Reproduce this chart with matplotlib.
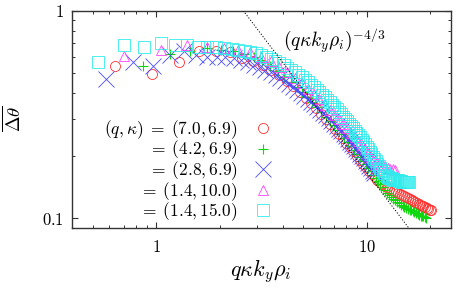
import matplotlib
matplotlib.use("Agg")
import matplotlib.pyplot as plt
import numpy as np
from matplotlib.ticker import FixedLocator, FixedFormatter, LogLocator, NullFormatter

plt.rcParams['mathtext.fontset'] = 'cm'
plt.rcParams['font.family'] = 'serif'
plt.rcParams['font.serif'] = ['cmr10', 'DejaVu Serif']

# ---- data ----
labels = [r'$(q,\kappa)\;=\;(7.0,6.9)$', r'$=\;(4.2,6.9)$', r'$=\;(2.8,6.9)$',
          r'$=\;(1.4,10.0)$', r'$=\;(1.4,15.0)$']

x_red = [0.64, 0.96, 1.28, 1.60, 1.92, 2.24, 2.56, 2.88, 3.20, 3.52, 3.84, 4.16, 4.48, 4.80, 5.12,
         5.44, 5.76, 6.08, 6.40, 6.72, 7.04, 7.36, 7.68, 8.00, 8.32, 8.64, 8.96, 9.28, 9.60, 9.92,
         10.24, 10.56, 10.88, 11.20, 11.52, 11.84, 12.16, 12.48, 12.80, 13.12, 13.44, 13.76, 14.08,
         14.40, 14.72, 15.04, 15.36, 15.68, 16.00, 16.32, 16.64, 16.96, 17.28, 17.60, 17.92, 18.24,
         18.56, 18.88, 19.20, 19.52, 19.84, 20.16]
y_red = [0.543, 0.495, 0.566, 0.640, 0.640, 0.635, 0.590, 0.575, 0.550, 0.520, 0.490, 0.460, 0.432,
         0.405, 0.380, 0.358, 0.338, 0.319, 0.301, 0.285, 0.270, 0.256, 0.243, 0.231, 0.220, 0.210,
         0.200, 0.191, 0.183, 0.176, 0.169, 0.163, 0.158, 0.153, 0.149, 0.146, 0.143, 0.141, 0.139,
         0.137, 0.136, 0.134, 0.133, 0.131, 0.130, 0.128, 0.127, 0.125, 0.124, 0.122, 0.121, 0.120,
         0.119, 0.117, 0.116, 0.115, 0.114, 0.113, 0.112, 0.111, 0.110, 0.109]

x_green = [0.87, 1.16, 1.45, 1.74, 2.03, 2.32, 2.61, 2.90, 3.19, 3.48, 3.77, 4.06, 4.35, 4.64, 4.93,
           5.22, 5.51, 5.80, 6.09, 6.38, 6.67, 6.96, 7.25, 7.54, 7.83, 8.12, 8.41, 8.70, 8.99, 9.28,
           9.57, 9.86, 10.15, 10.44, 10.73, 11.02, 11.31, 11.60, 11.89, 12.18, 12.47, 12.76, 13.05,
           13.34, 13.63, 13.92, 14.21, 14.50, 14.79, 15.08, 15.37, 15.66, 15.95, 16.24, 16.53, 16.82,
           17.11, 17.40, 17.69, 17.98, 18.27, 18.56, 18.85, 19.14]
y_green = [0.543, 0.620, 0.640, 0.660, 0.650, 0.640, 0.620, 0.595, 0.570, 0.540,
           0.510, 0.480, 0.455, 0.430, 0.405, 0.383, 0.362, 0.343, 0.325, 0.309,
           0.294, 0.280, 0.267, 0.255, 0.244, 0.233, 0.223, 0.214, 0.205, 0.197,
           0.189, 0.182, 0.175, 0.168, 0.162, 0.156, 0.151, 0.146, 0.141, 0.137,
           0.133, 0.130, 0.127, 0.124, 0.122, 0.120, 0.118, 0.116, 0.115, 0.113,
           0.112, 0.111, 0.110, 0.109, 0.108, 0.107, 0.106, 0.105, 0.104, 0.103,
           0.102, 0.102, 0.101, 0.100]

x_blue = [0.58, 0.78, 0.97, 1.16, 1.36, 1.55, 1.75, 1.94, 2.13, 2.33, 2.52, 2.72, 2.91, 3.10, 3.30,
          3.49, 3.69, 3.88, 4.07, 4.27, 4.46, 4.66, 4.85, 5.04, 5.24, 5.43, 5.63, 5.82, 6.01, 6.21,
          6.40, 6.60, 6.79, 6.98, 7.18, 7.37, 7.57, 7.76, 7.95, 8.15, 8.34, 8.54, 8.73, 8.92, 9.12,
          9.31, 9.51, 9.70, 9.89, 10.09, 10.28, 10.48, 10.67, 10.86]
y_blue = [0.469, 0.566, 0.544, 0.610, 0.640, 0.610, 0.600, 0.600, 0.598, 0.590,
          0.580, 0.565, 0.550, 0.535, 0.520, 0.505, 0.490, 0.475, 0.460, 0.445,
          0.430, 0.415, 0.401, 0.389, 0.377, 0.365, 0.354, 0.343, 0.333, 0.323,
          0.313, 0.304, 0.295, 0.286, 0.278, 0.270, 0.262, 0.255, 0.248, 0.241,
          0.234, 0.228, 0.222, 0.216, 0.210, 0.204, 0.199, 0.194, 0.189, 0.184,
          0.179, 0.174, 0.169, 0.165]

x_mag = [0.70, 1.05, 1.40, 1.75, 2.10, 2.45, 2.80, 3.15, 3.50, 3.85, 4.20, 4.55, 4.90, 5.25, 5.60,
         5.95, 6.30, 6.65, 7.00, 7.35, 7.70, 8.05, 8.40, 8.75, 9.10, 9.45, 9.80, 10.15, 10.50, 10.85,
         11.20, 11.55, 11.90, 12.25, 12.60, 12.95, 13.30, 13.65]
y_mag = [0.605, 0.650, 0.680, 0.670, 0.660, 0.645, 0.630, 0.600, 0.570, 0.537,
         0.505, 0.475, 0.447, 0.421, 0.397, 0.374, 0.353, 0.334, 0.316, 0.300,
         0.285, 0.271, 0.258, 0.246, 0.235, 0.225, 0.215, 0.206, 0.198, 0.192,
         0.187, 0.183, 0.180, 0.177, 0.175, 0.173, 0.172, 0.171]

x_cyan = [0.53, 0.70, 0.88, 1.05, 1.23, 1.40, 1.58, 1.75, 1.93, 2.10,
          2.28, 2.45, 2.63, 2.80, 2.98, 3.15, 3.33, 3.50, 3.68, 3.85,
          4.03, 4.20, 4.38, 4.55, 4.73, 4.90, 5.08, 5.25, 5.43, 5.60,
          5.78, 5.95, 6.13, 6.30, 6.48, 6.65, 6.83, 7.00, 7.18, 7.35,
          7.53, 7.70, 7.88, 8.05, 8.23, 8.40, 8.58, 8.75, 8.93, 9.10,
          9.28, 9.45, 9.63, 9.80, 9.98, 10.15, 10.33, 10.50, 10.68, 10.85,
          11.03, 11.20, 11.38, 11.55, 11.73, 11.90, 12.08, 12.25, 12.43, 12.60,
          12.78, 12.95, 13.13, 13.30, 13.48, 13.65, 13.83, 14.00, 14.18, 14.35,
          14.53, 14.70, 14.88, 15.05, 15.23, 15.40, 15.58, 15.75, 15.93]
y_cyan = [0.566, 0.680, 0.670, 0.700, 0.680, 0.685, 0.670, 0.670, 0.665, 0.660,
          0.655, 0.650, 0.640, 0.632, 0.622, 0.610, 0.598, 0.585, 0.572, 0.558,
          0.545, 0.531, 0.517, 0.504, 0.491, 0.478, 0.465, 0.452, 0.440, 0.428,
          0.416, 0.405, 0.394, 0.383, 0.373, 0.363, 0.353, 0.344, 0.335, 0.326,
          0.317, 0.309, 0.301, 0.293, 0.285, 0.278, 0.271, 0.264, 0.257, 0.251,
          0.245, 0.239, 0.233, 0.227, 0.221, 0.215, 0.209, 0.203, 0.198, 0.193,
          0.188, 0.183, 0.179, 0.175, 0.171, 0.168, 0.165, 0.162, 0.160, 0.158,
          0.157, 0.156, 0.155, 0.154, 0.153, 0.153, 0.152, 0.152, 0.151, 0.151,
          0.151, 0.150, 0.150, 0.150, 0.150, 0.150, 0.150, 0.150, 0.150]

# power law reference: A * x^(-4/3)
pl_prefactor = 3.56
pl_exponent = -4.0 / 3.0

xtick_vals = [1, 10]
xtick_labels = ['$1$', '$10$']
ytick_vals = [0.1, 1]
ytick_labels = ['$0.1$', '$1$']

# ---- figure ----
fig = plt.figure(figsize=(4.62, 2.91), dpi=100)
ax = fig.add_axes([0.1565, 0.2175, 0.819, 0.7457])
ax.set_xscale('log')
ax.set_yscale('log')
ax.set_xlim(0.4, 25)
ax.set_ylim(0.09, 1)

series = [
    (x_red, y_red, 'o', '#ff3030', 7.2, 0.6),
    (x_green, y_green, '+', '#10d810', 7.5, 0.8),
    (x_blue, y_blue, 'x', '#4a4aff', 11.5, 0.6),
    (x_mag, y_mag, '^', '#ff40ff', 7.5, 0.6),
    (x_cyan, y_cyan, 's', '#30ecec', 8.0, 0.6),
]
handles = []
for (xs, ys, m, c, ms, mew), lab in zip(series, labels):
    h, = ax.plot(xs, ys, linestyle='none', marker=m, markersize=ms,
                 markerfacecolor='none', markeredgecolor=c, markeredgewidth=mew,
                 label=lab)
    handles.append(h)

xx = np.logspace(np.log10(0.4), np.log10(25), 200)
ax.plot(xx, pl_prefactor * xx ** pl_exponent, color='black', lw=0.7,
        linestyle=(0, (1.2, 1.8)), zorder=5)

ax.text(0.557, 0.828, r'$(q\kappa k_y\rho_i)^{-4/3}$', transform=ax.transAxes,
        fontsize=14, ha='left', va='baseline')

# ticks
for sp in ax.spines.values():
    sp.set_color('#333333')
    sp.set_linewidth(1.0)
ax.xaxis.set_major_locator(FixedLocator(xtick_vals))
ax.xaxis.set_major_formatter(FixedFormatter(xtick_labels))
ax.yaxis.set_major_locator(FixedLocator(ytick_vals))
ax.yaxis.set_major_formatter(FixedFormatter(ytick_labels))
ax.xaxis.set_minor_locator(LogLocator(base=10, subs=np.arange(2, 10)))
ax.yaxis.set_minor_locator(LogLocator(base=10, subs=np.arange(2, 10)))
ax.xaxis.set_minor_formatter(NullFormatter())
ax.yaxis.set_minor_formatter(NullFormatter())
ax.tick_params(which='both', direction='in', top=True, right=True, color='#333333')
ax.tick_params(which='major', length=4, width=0.8, labelsize=12)
ax.tick_params(which='minor', length=2.2, width=0.7)
ax.tick_params(axis='x', which='major', pad=8)
ax.tick_params(axis='y', which='major', pad=6)

ax.set_xlabel(r'$q\kappa k_y\rho_i$', fontsize=16)
ax.xaxis.set_label_coords(0.4987, -0.135)
ax.set_ylabel(r'$\overline{\Delta\theta}$', fontsize=13.5)
ax.yaxis.set_label_coords(-0.127, 0.5)

leg = ax.legend(handles=handles, labels=labels, markerfirst=False, frameon=False,
                loc='upper right', bbox_to_anchor=(0.526, 0.505),
                fontsize=12.5, handlelength=1.0, handletextpad=0.95,
                labelspacing=-0.12, borderpad=0, borderaxespad=0)

fig.savefig('out.png', dpi=100)
